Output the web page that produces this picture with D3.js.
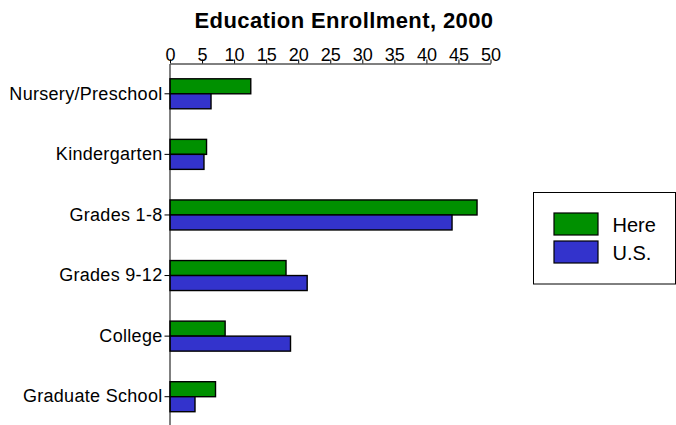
<!DOCTYPE html>
<html>
<head>
<meta charset="utf-8">
<script src="https://cdn.jsdelivr.net/npm/d3@7"></script>
<style>
  body { margin: 0; background: #fff; }
  svg { display: block; font-family: "Liberation Sans", Arial, sans-serif; }
</style>
</head>
<body>
<svg width="676" height="425"></svg>
<script>
let categories = ['Nursery/Preschool', 'Kindergarten', 'Grades 1-8', 'Grades 9-12', 'College', 'Graduate School'];
let here = [12.6, 5.7, 47.9, 18.1, 8.6, 7.1];
let us = [6.4, 5.3, 44.0, 21.4, 18.8, 3.9];
let seriesNames = ['Here', 'U.S.'];
let seriesColors = ['#009000', '#3333cc'];
let xTicks = [0, 5, 10, 15, 20, 25, 30, 35, 40, 45, 50];

let svg = d3.select('svg');

let x = d3.scaleLinear().domain([0, 50]).range([170, 490.5]);
let y = d3.scaleBand().domain(categories).range([63.5, 427]);
let barH = 15;

/* Title */
svg.append('text')
  .attr('x', 344).attr('y', 27.5)
  .attr('text-anchor', 'middle')
  .attr('font-size', 22).attr('font-weight', 'bold')
  .attr('letter-spacing', 0.4)
  .text('Education Enrollment, 2000');

/* Bars */
let series = [here, us];
series.forEach(function(vals, s) {
  svg.append('g').selectAll('rect').data(vals).enter().append('rect')
    .attr('x', x(0))
    .attr('y', function(d, i) { return y(categories[i]) + y.bandwidth()/2 - barH + s*barH; })
    .attr('width', function(d) { return x(d) - x(0); })
    .attr('height', barH)
    .attr('fill', seriesColors[s])
    .attr('stroke', '#000')
    .attr('stroke-width', 1.4);
});

/* Axes */
let xAxis = svg.append('g')
  .attr('transform', 'translate(0,63.5)')
  .call(d3.axisTop(x).tickValues(xTicks).tickSize(4).tickSizeOuter(0).tickPadding(-1));
xAxis.selectAll('text').attr('font-size', 18).attr('font-family', null).attr('fill', '#000');

let yAxis = svg.append('g')
  .attr('transform', 'translate(169.5,0)')
  .call(d3.axisLeft(y).tickSize(5).tickSizeOuter(0).tickPadding(2));
yAxis.selectAll('text').attr('font-size', 18).attr('letter-spacing', 0.3).attr('font-family', null).attr('fill', '#000');

svg.selectAll('.domain, .tick line').attr('stroke', '#000');

/* Legend */
let legend = svg.append('g');
legend.append('rect')
  .attr('x', 533.5).attr('y', 192.5).attr('width', 142).attr('height', 91.5)
  .attr('fill', '#fff').attr('stroke', '#000').attr('stroke-width', 1);

seriesNames.forEach(function(name, i) {
  legend.append('rect')
    .attr('x', 554).attr('y', 213 + i*28).attr('width', 44).attr('height', 22)
    .attr('fill', seriesColors[i]).attr('stroke', '#000').attr('stroke-width', 1.2);
  legend.append('text')
    .attr('x', 612.5).attr('y', 231.5 + i*28)
    .attr('font-size', 20)
    .text(name);
});
</script>
</body>
</html>
